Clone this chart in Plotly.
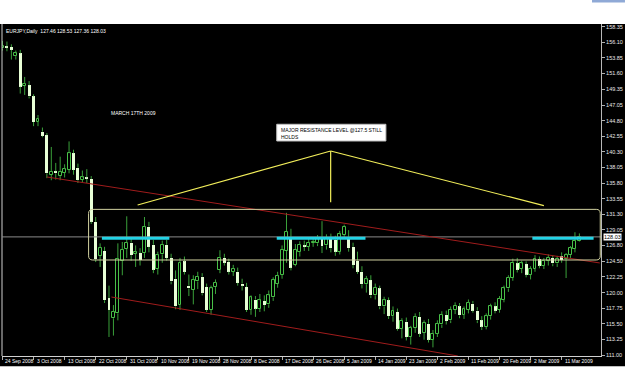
import numpy as np
import plotly.graph_objects as go

# ---------------- data (EURJPY daily) ----------------
opens = [155.2,155.5,155.4,154.1,154.5,149.8,149.9,148.3,144.6,143.2,
         142.7,137.0,137.5,136.8,137.3,137.7,140.1,138.0,136.3,136.6,
         136.4,130.2,125.3,126.0,119.2,116.3,117.0,124.6,126.3,127.2,
         125.6,125.7,125.7,129.5,126.9,123.4,125.5,126.9,125.0,122.0,
         118.2,124.5,121.0,120.4,121.6,122.3,120.8,117.5,120.8,123.3,
         125.0,124.4,123.0,123.0,121.3,120.8,117.5,119.0,117.7,118.8,
         118.3,119.3,121.3,122.6,126.0,127.7,124.0,125.9,126.8,126.6,
         127.2,127.1,127.8,126.8,127.9,127.6,125.9,128.3,127.9,126.6,
         124.6,123.0,121.2,121.8,119.6,120.6,118.0,118.9,116.6,117.2,
         114.8,115.8,113.6,114.9,116.5,114.2,115.5,113.2,114.1,115.4,
         116.8,116.0,117.5,118.0,116.8,117.5,118.4,117.4,116.0,115.1,
         116.6,118.0,117.5,119.0,120.6,122.1,124.2,123.4,124.1,122.6,
         123.4,124.8,123.9,124.6,125.0,124.2,125.3,124.8,125.4,126.3,
         127.46]
highs = [156.3,156.2,155.8,154.9,155.0,151.1,150.5,148.6,145.6,143.8,
         143.0,141.0,138.7,139.6,138.5,141.8,140.6,138.6,137.6,137.8,
         136.8,130.9,127.1,126.6,121.0,118.2,127.1,127.3,131.0,128.0,
         126.8,126.4,130.9,130.2,127.6,125.9,127.5,127.6,125.6,123.2,
         125.0,125.2,122.6,122.5,123.0,122.8,121.3,121.0,121.9,126.1,
         125.6,124.9,124.0,123.6,122.0,121.4,119.6,119.5,119.8,119.6,
         120.3,122.2,123.0,126.8,131.5,129.2,127.0,127.4,127.5,127.8,
         127.9,128.3,130.3,128.4,128.5,128.2,128.9,129.8,129.0,127.2,
         125.9,123.8,122.4,122.5,121.3,121.0,119.4,119.3,118.0,117.7,
         116.3,116.4,115.2,117.0,117.2,116.0,116.2,114.6,116.0,117.3,
         117.4,118.0,118.6,118.5,118.0,119.0,118.8,117.9,116.6,117.0,
         118.4,118.6,119.5,121.0,122.5,124.9,125.0,124.6,124.5,123.8,
         125.4,125.2,125.0,125.5,125.4,125.3,125.8,125.7,126.7,128.7,
         128.53]
lows = [154.9,154.8,153.6,153.6,148.7,148.5,148.0,144.0,144.0,142.4,
        136.5,136.2,136.3,136.2,136.6,137.2,137.0,135.8,135.9,135.8,
        129.9,124.4,123.7,118.5,113.6,113.8,116.0,122.5,125.0,124.6,
        123.7,123.9,125.0,125.8,122.8,122.6,124.3,124.6,121.2,117.6,
        117.5,122.6,119.5,118.3,120.5,119.6,117.2,116.8,119.8,122.8,
        123.9,122.6,122.4,121.0,120.3,117.2,116.8,116.5,117.2,117.3,
        117.8,118.8,120.7,122.0,124.3,123.2,123.8,125.2,126.0,126.0,
        126.6,126.7,125.7,126.2,125.8,125.3,125.5,127.9,125.9,123.5,
        122.7,120.6,120.0,119.2,119.0,117.6,116.9,116.2,115.8,114.5,
        113.4,113.1,112.5,114.2,113.6,113.2,112.8,112.1,113.6,114.9,
        115.4,115.6,116.9,116.3,116.2,117.0,117.1,115.6,114.6,114.7,
        116.1,117.0,117.1,118.6,120.1,121.7,122.9,122.8,122.2,121.9,
        123.0,123.5,123.4,123.9,123.8,123.7,124.3,122.1,125.0,125.8,
        127.36]
closes = [155.5,155.3,155.0,154.5,149.7,150.1,148.3,144.6,145.1,142.6,
          137.2,137.4,137.2,137.4,137.8,140.1,137.7,136.2,136.6,136.4,
          130.2,124.8,126.5,118.9,117.5,117.2,124.8,126.2,127.2,125.4,
          125.8,124.7,129.5,126.6,123.3,125.4,126.9,125.0,121.6,118.0,
          124.3,123.0,120.6,121.8,122.3,119.9,117.5,120.6,121.4,125.0,
          124.3,123.0,123.4,121.4,121.0,117.5,119.3,117.7,118.9,118.2,
          119.6,121.8,122.4,126.2,128.8,123.6,126.2,126.9,126.6,127.2,
          127.3,127.7,126.7,127.9,126.4,125.9,128.4,129.5,126.4,124.0,
          123.0,121.2,121.9,119.6,120.7,118.0,118.9,116.6,117.3,114.8,
          115.9,113.6,114.9,116.5,114.1,115.6,113.2,114.1,115.5,116.8,
          115.9,117.5,118.1,116.7,117.6,118.5,117.4,116.0,115.1,116.6,
          118.0,117.4,119.1,120.6,122.1,124.3,123.3,124.2,122.6,123.4,
          124.9,123.9,124.6,125.0,124.2,124.9,124.7,125.4,126.4,127.5,
          128.03]

date_labels = ["24 Sep 2008", "3 Oct 2008", "13 Oct 2008", "22 Oct 2008",
               "31 Oct 2008", "10 Nov 2008", "19 Nov 2008", "28 Nov 2008",
               "8 Dec 2008", "17 Dec 2008", "26 Dec 2008", "5 Jan 2009",
               "14 Jan 2009", "23 Jan 2009", "2 Feb 2009", "11 Feb 2009",
               "20 Feb 2009", "2 Mar 2009", "11 Mar 2009"]
date_label_bars = [0, 7, 14, 21, 28, 35, 42, 49, 56, 63, 70, 77, 84, 91, 98,
                   105, 112, 119, 126]
price_ticks = [111.00, 113.25, 115.50, 117.75, 120.00, 122.25, 124.50, 126.80,
               129.05, 131.30, 133.55, 135.80, 138.05, 140.30, 142.55, 144.80,
               147.05, 149.35, 151.60, 153.85, 156.10, 158.35]
price_tick_text = ["111.00", "113.25", "115.50", "117.75", "120.00", "122.25",
                   "124.50", "126.80", "129.05", "131.30", "133.55", "135.80",
                   "138.05", "140.30", "142.55", "144.80", "147.05", "149.35",
                   "151.60", "153.85", "156.10", "158.35"]
last_price = 128.03
header = "EURJPY,Daily  127.46 128.53 127.36 128.03"

# ---------------- build ----------------
O = np.array(opens); H = np.array(highs); L = np.array(lows); C = np.array(closes)
idx = np.arange(len(O))
top = np.maximum(O, C); bot = np.minimum(O, C)
up = C >= O

wx, wy = [], []
for i in idx:
    wx += [i, i, None, i, i, None]
    wy += [top[i], H[i], None, L[i], bot[i], None]

GREEN = "#3aa03a"
fig = go.Figure()
fig.add_trace(go.Bar(x=idx[up], base=O[up], y=np.maximum(C[up] - O[up], 0.08),
                     width=0.66, marker=dict(color="black", line=dict(color="#48c048", width=1)),
                     hoverinfo="skip", showlegend=False))
fig.add_trace(go.Bar(x=idx[~up], base=C[~up], y=np.maximum(O[~up] - C[~up], 0.08),
                     width=0.66, marker=dict(color="#e8ffd6", line=dict(width=0)),
                     hoverinfo="skip", showlegend=False))
fig.add_trace(go.Scatter(x=wx, y=wy, mode="lines", line=dict(color=GREEN, width=1),
                         hoverinfo="skip", showlegend=False))

shapes = []
# white strips outside the terminal area
shapes.append(dict(type="rect", xref="paper", yref="paper", x0=-0.05, x1=1.06,
                   y0=1.0, y1=1.2, fillcolor="white", line=dict(width=0), layer="below"))
shapes.append(dict(type="rect", xref="paper", yref="paper", x0=-0.05, x1=1.06,
                   y0=-0.2, y1=-0.031, fillcolor="white", line=dict(width=0), layer="below"))
shapes.append(dict(type="rect", xref="paper", yref="paper", x0=0.985, x1=1.04,
                   y0=1.065, y1=1.073, fillcolor="#8fa9d6", line=dict(width=0), layer="below"))
# left frame line
shapes.append(dict(type="line", xref="paper", yref="paper", x0=0, x1=0, y0=0, y1=1,
                   line=dict(color="#d0d0d0", width=1)))
# bid line
shapes.append(dict(type="line", xref="paper", yref="y", x0=0, x1=1, y0=last_price, y1=last_price,
                   line=dict(color="#8a8a8a", width=1)))
# red channel lines
shapes.append(dict(type="line", x0=9.98, y0=136.67, x1=134.6, y1=124.27,
                   line=dict(color="#a01c1c", width=1)))
shapes.append(dict(type="line", x0=24.55, y0=119.36, x1=102.6, y1=110.86,
                   line=dict(color="#a01c1c", width=1)))
# rounded rectangle zone
x0r, x1r, y0r, y1r, rx, ry = 19.4, 134.7, 124.7, 132.0, 0.9, 0.6
path = (f"M {x0r+rx},{y1r} L {x1r-rx},{y1r} Q {x1r},{y1r} {x1r},{y1r-ry} "
        f"L {x1r},{y0r+ry} Q {x1r},{y0r} {x1r-rx},{y0r} L {x0r+rx},{y0r} "
        f"Q {x0r},{y0r} {x0r},{y0r+ry} L {x0r},{y1r-ry} Q {x0r},{y1r} {x0r+rx},{y1r} Z")
shapes.append(dict(type="path", path=path, line=dict(color="#d2d2a0", width=1)))
# cyan resistance segments
for a, b in [(22.4, 37.6), (61.8, 81.8), (119.4, 133.2)]:
    shapes.append(dict(type="line", x0=a, x1=b, y0=127.83, y1=127.83,
                       line=dict(color="#22d3e6", width=3)))
# yellow pointer lines
YEL = "#f2ee5a"
shapes.append(dict(type="line", x0=30.45, y0=132.63, x1=73.95, y1=140.42, line=dict(color=YEL, width=1.2)))
shapes.append(dict(type="line", x0=73.95, y0=140.42, x1=122.0, y1=132.53, line=dict(color=YEL, width=1.2)))
shapes.append(dict(type="line", x0=73.95, y0=140.42, x1=73.95, y1=133.02, line=dict(color=YEL, width=1.2)))
# text box
shapes.append(dict(type="rect", x0=61.8, x1=86.4, y0=141.86, y1=144.27,
                   fillcolor="white", line=dict(color="#c0c0c0", width=1)))

FONT = "Liberation Sans, Arial, sans-serif"
ann = []
ann.append(dict(text=header, xref="paper", yref="paper", x=0.003, y=0.993,
                xanchor="left", yanchor="top", showarrow=False,
                font=dict(family=FONT, size=5, color="white")))
ann.append(dict(text="MARCH 17TH 2009", x=24.1, y=145.9, xanchor="left", yanchor="middle",
                showarrow=False, font=dict(family=FONT, size=5, color="white")))
ann.append(dict(text="MAJOR RESISTANCE LEVEL @127.5 STILL<br>HOLDS", x=62.2, y=144.15,
                xanchor="left", yanchor="top", align="left", showarrow=False,
                font=dict(family=FONT, size=5, color="black")))
for lbl, b in zip(date_labels, date_label_bars):
    ann.append(dict(text=lbl, x=b, xref="x", yref="paper", y=-0.016, xanchor="left",
                    yanchor="middle", xshift=1, showarrow=False,
                    font=dict(family=FONT, size=5, color="white")))
ann.append(dict(text=f"{last_price:.2f}", xref="paper", x=1.004, y=last_price, yref="y",
                xanchor="left", yanchor="middle", showarrow=False, bgcolor="white",
                borderpad=0, font=dict(family=FONT, size=5.5, color="black")))

fig.update_layout(
    width=625, height=391,
    margin=dict(l=2, r=21, t=24, b=35),
    paper_bgcolor="black", plot_bgcolor="black",
    barmode="overlay", bargap=0,
    showlegend=False,
    shapes=shapes, annotations=ann,
    xaxis=dict(range=[-0.11, 134.87], showgrid=False, zeroline=False,
               showline=True, linecolor="#d0d0d0", linewidth=1,
               tickmode="array", tickvals=date_label_bars, ticks="outside",
               ticklen=3, tickcolor="#b0b0b0", showticklabels=False, fixedrange=True),
    yaxis=dict(range=[110.856, 158.73], side="right", showgrid=False, zeroline=False,
               showline=True, linecolor="#b8b8b8", linewidth=1,
               tickmode="array", tickvals=price_ticks, ticktext=price_tick_text,
               ticks="outside", ticklen=3, tickcolor="#b0b0b0",
               tickfont=dict(family=FONT, size=5.5, color="#e8e8e8"), fixedrange=True),
)

fig.write_html("out.html")
